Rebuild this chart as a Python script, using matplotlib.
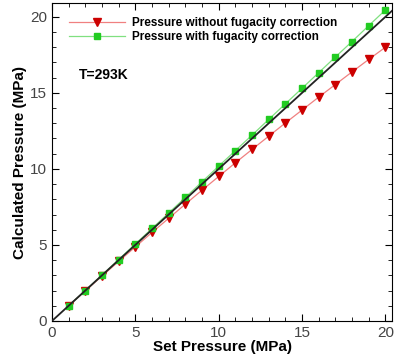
import numpy as np
import matplotlib
matplotlib.use('Agg')
from matplotlib import pyplot as plt
from matplotlib.ticker import MultipleLocator

plt.rcParams['font.family'] = ['Liberation Sans', 'DejaVu Sans']

set_p = [1, 2, 3, 4, 5, 6, 7, 8, 9, 10, 11, 12, 13, 14, 15, 16, 17, 18, 19, 20]
p_no_fug = [0.99, 1.98, 2.95, 3.92, 4.87, 5.82, 6.75, 7.68, 8.6, 9.5,
            10.4, 11.28, 12.15, 13.02, 13.87, 14.72, 15.55, 16.38, 17.2, 18.0]
p_fug = [1.0, 2.0, 3.02, 4.04, 5.06, 6.08, 7.1, 8.12, 9.15, 10.18,
         11.2, 12.22, 13.25, 14.28, 15.3, 16.33, 17.36, 18.38, 19.42, 20.45]
ideal = [0, 21]

fig = plt.figure(figsize=(3.94, 3.55), dpi=100)
ax = fig.add_axes([0.132, 0.096, 0.863, 0.895])

ax.plot(set_p, p_no_fug, color='#f08080', lw=0.9, marker='v', ms=5.5,
        mfc='#cc0000', mec='#cc0000', label='Pressure without fugacity correction')
ax.plot(set_p, p_fug, color='#80e080', lw=0.9, marker='s', ms=5,
        mfc='#22cc22', mec='#22cc22', label='Pressure with fugacity correction')
ax.plot(ideal, ideal, color='#222222', lw=1.3, zorder=3)

ax.set_xlim(0, 20.4)
ax.set_ylim(0, 20.9)
ax.xaxis.set_major_locator(MultipleLocator(5))
ax.xaxis.set_minor_locator(MultipleLocator(1))
ax.yaxis.set_major_locator(MultipleLocator(5))
ax.yaxis.set_minor_locator(MultipleLocator(1))
ax.tick_params(which='both', direction='in', top=True, right=True,
               labelsize=11, labelcolor='#444444')
ax.tick_params(which='major', length=5)
ax.tick_params(which='minor', length=3)

ax.set_xlabel('Set Pressure (MPa)', fontsize=11, fontweight='bold', labelpad=0)
ax.set_ylabel('Calculated Pressure (MPa)', fontsize=11, fontweight='bold', labelpad=2)

ax.text(1.6, 15.9, 'T=293K', fontsize=10, fontweight='bold')

leg = ax.legend(loc='upper left', bbox_to_anchor=(0.02, 0.99), frameon=False,
                prop={'weight': 'bold', 'size': 8.5}, handlelength=4.7,
                handletextpad=0.6, labelspacing=0.2)

fig.savefig('out.png', dpi=100)
